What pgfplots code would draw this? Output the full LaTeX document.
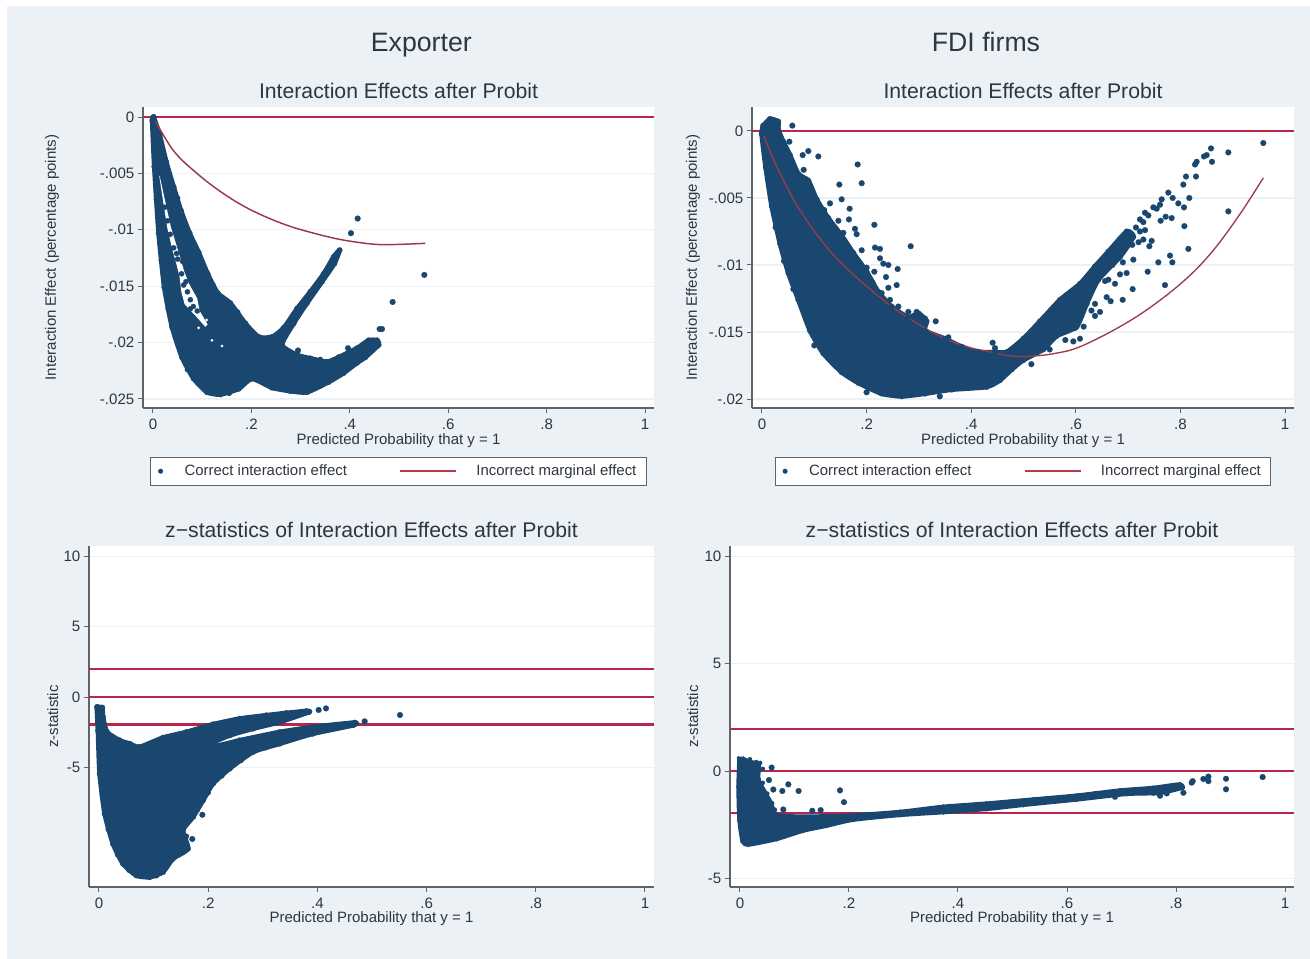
\documentclass[border=0pt]{standalone}
\usepackage{fontspec}
\setmainfont{Liberation Sans}
\usepackage{pgfplots}
\pgfplotsset{compat=1.18}
\definecolor{sbg}{HTML}{EBF1F4}
\definecolor{navy}{HTML}{1A476F}
\definecolor{cran}{HTML}{B8264F}
\definecolor{redcurve}{HTML}{9C3A4A}
\definecolor{legred}{HTML}{B83A50}
\definecolor{txt}{HTML}{2E3640}
\definecolor{spine}{HTML}{5E6468}
\newcommand\fsmain{\fontsize{20}{22}\selectfont}
\newcommand\fstitle{\fontsize{15.9}{18}\selectfont}
\newcommand\fslab{\fontsize{11.25}{14}\selectfont}
\newcommand\fstick{\fontsize{11.3}{13}\selectfont}
\newcommand\fsleg{\fontsize{11.2}{13}\selectfont}
\pgfplotsset{
  stata/.style={
    scale only axis, anchor=south west,
    axis x line*=bottom, axis y line*=left,
    axis line style={spine,line width=1pt,-},
    tick style={spine,line width=.75pt},
    major tick length=4pt, tick align=outside,
    axis background/.style={fill=white},
    ymajorgrids, grid style={sbg,line width=1pt},
    scaled y ticks=false, scaled x ticks=false,
    xtick={0,.2,.4,.6,.8,1}, xticklabels={0,.2,.4,.6,.8,1},
    tick label style={font=\fstick,text=txt},
    xticklabel style={yshift=-.5pt},
    yticklabel style={xshift=1pt},
    title style={font=\fstitle,text=txt,at={(axis description cs:.5,1)},anchor=center,yshift=6pt},
    xlabel={Predicted Probability that y = 1},
    legend style={draw=spine,line width=.8pt,fill=white,font=\fsleg,text=txt,
      anchor=center,legend columns=2,inner xsep=5.5pt,inner ysep=3.5pt,
      nodes={yshift=-1.2pt},
      /tikz/column 1/.style={column sep=3pt},
      /tikz/column 2/.style={column sep=37.5pt},
      /tikz/column 3/.style={column sep=12.5pt}},
    legend cell align=left,
  },
  blob/.style={fill=navy,draw=navy,line width=3.6pt,line join=round,smooth,tension=.35,mark=*,mark size=2.1pt,
    mark options={fill=navy,draw=navy,line width=.1pt,solid}},
  pts/.style={only marks,mark=*,mark size=2.2pt,mark options={fill=navy,draw=navy,line width=.1pt}},
  thickline/.style={draw=cran,color=cran,line width=1.8pt,forget plot},
  thinline/.style={draw=cran,color=cran,line width=1.4pt,forget plot},
  legdot/.style={legend image code/.code={\fill[navy,draw=none] (2pt,-1pt) circle (1.9pt);\path[draw=none,fill=none] (0pt,0pt) -- (15pt,0pt);}},
  legline/.style={legend image code/.code={\draw[draw=legred,line width=1.1pt] (0pt,-.75pt) -- (42pt,-.75pt);}},
}
\begin{document}
\begin{tikzpicture}
\useasboundingbox (0,0) rectangle (982.5pt,719.25pt);
\fill[sbg] (5.25pt,0) rectangle (982.5pt,714.75pt);
\node[font=\fsmain,text=txt,anchor=base] at (316pt,680.5pt) {Exporter};
\node[font=\fsmain,text=txt,anchor=base] at (739.5pt,680.5pt) {FDI firms};

% ---------- Panel A
\begin{axis}[stata, at={(107.25pt,413.25pt)}, width=383.25pt, height=225.75pt,
  xmin=-.0203, xmax=1.0183, ymin=-.0258, ymax=.00089,
  ytick={0,-.005,-.01,-.015,-.02,-.025},
  yticklabels={0,-.005,-.01,-.015,-.02,-.025},
  title={Interaction Effects after Probit},
  ylabel={Interaction Effect (percentage points)},
  every axis y label/.style={at={(axis description cs:-.178,.5)},rotate=90,anchor=center,font=\fslab,text=txt},
  every axis x label/.style={at={(axis description cs:.5,-.108)},anchor=center,font=\fslab,text=txt},
  legend style={at={(axis description cs:.5,-.211)}},
]
\addplot[thickline] coordinates {(-.0203,0)(1.0183,0)};
\addplot[blob,forget plot] coordinates {
(.0014,0)(.0136,-.0016)(.0271,-.0040)(.0420,-.0062)(.0569,-.0083)(.0745,-.0103)(.0928,-.0120)
(.1111,-.0139)(.1314,-.0156)(.1572,-.0165)(.1877,-.0183)(.2148,-.0195)(.2419,-.0195)(.2656,-.0187)
(.2927,-.0170)(.3198,-.0155)(.3469,-.0139)(.3672,-.0124)(.3794,-.0118)(.3686,-.0130)(.3435,-.0146)
(.3130,-.0165)(.2859,-.0183)(.2622,-.0202)(.2927,-.0211)(.3198,-.0214)(.3537,-.0217)(.3774,-.0213)
(.4146,-.0205)(.4383,-.0198)(.4553,-.0198)(.4587,-.0202)(.4316,-.0213)(.4146,-.0218)(.3875,-.0227)
(.3570,-.0235)(.3130,-.0244)(.2791,-.0243)(.2419,-.0240)(.2012,-.0232)(.1741,-.0241)(.1369,-.0246)
(.1098,-.0244)(.0827,-.0232)(.0589,-.0213)(.0386,-.0186)(.0230,-.0151)(.0115,-.0103)(.0027,-.0044)
(-.0014,-.0003)(.0014,0)};
\addplot[fill=white,draw=none,forget plot] coordinates {
(.0130,-.0053)(.0210,-.0076)(.0290,-.0098)(.0396,-.0118)(.0474,-.0130)(.0542,-.0142)(.0576,-.0155)
(.0643,-.0166)(.0860,-.0176)(.1064,-.0186)(.1110,-.0184)(.0950,-.0172)(.0900,-.0161)(.0735,-.0148)
(.0635,-.0137)(.0535,-.0122)(.0366,-.0098)(.0235,-.0072)(.0135,-.0052)(.0130,-.0053)};
\addplot[pts,mark size=2pt,forget plot] coordinates {(.0240,-.0080)(.0300,-.0092)(.0350,-.0104)(.0420,-.0116)(.0500,-.0126)(.0480,-.0121)(.0580,-.0139)(.0623,-.0149)(.0700,-.0155)(.0759,-.0162)(.0820,-.0168)(.0900,-.0172)(.0670,-.0146)(.0600,-.0128)(.0760,-.0170)};
\addplot[only marks,mark=*,mark size=1pt,mark options={fill=white,draw=white,line width=.1pt},forget plot] coordinates {(.0928,-.0187)(.1199,-.0198)(.1402,-.0203)(.1090,-.0180)};
\addplot[pts,forget plot] coordinates {(.4160,-.0090)(.4024,-.0103)(.5515,-.0140)(.4871,-.0164)(.4654,-.0188)(.4607,-.0188)(.3963,-.0205)(.2947,-.0207)};
\addplot[pts,mark size=2pt,forget plot] coordinates {(.0500,-.0072)(.0660,-.0095)(.1020,-.0131)(.1220,-.0149)(.1720,-.0173)(.2030,-.0191)(.3330,-.0216)(.3400,-.0215)(.3950,-.0210)(.3300,-.0240)(.1550,-.0245)(.0700,-.0224)(.0310,-.0170)(.0170,-.0127)(.0070,-.0073)};
\addplot[draw=redcurve,line width=1.1pt,smooth,tension=.6,forget plot] coordinates {
(0,0)(.0420,-.0030)(.0894,-.0050)(.1369,-.0066)(.1843,-.0079)(.2317,-.0089)(.2791,-.0097)
(.3266,-.0103)(.3740,-.0108)(.4146,-.0111)(.4553,-.0113)(.4959,-.0113)(.5535,-.0112)};
\addlegendimage{legdot}
\addlegendentry{Correct interaction effect}
\addlegendimage{legline}
\addlegendentry{Incorrect marginal effect}
\end{axis}

% ---------- Panel B
\begin{axis}[stata, at={(564pt,413.25pt)}, width=406.5pt, height=225.75pt,
  xmin=-.0191, xmax=1.0172, ymin=-.02067, ymax=.00179,
  ytick={0,-.005,-.01,-.015,-.02},
  yticklabels={0,-.005,-.01,-.015,-.02},
  title={Interaction Effects after Probit},
  ylabel={Interaction Effect (percentage points)},
  every axis y label/.style={at={(axis description cs:-.109,.5)},rotate=90,anchor=center,font=\fslab,text=txt},
  every axis x label/.style={at={(axis description cs:.5,-.108)},anchor=center,font=\fslab,text=txt},
  legend style={at={(axis description cs:.5,-.211)}},
]
\addplot[thinline] coordinates {(-.0191,0)(1.0172,0)};
\addplot[blob,forget plot] coordinates {
(.0025,.0004)(.0153,.0009)(.0312,.0007)(.0312,.0001)(.0408,-.0008)(.0535,-.0018)(.0695,-.0032)(.0886,-.0037)
(.1045,-.0051)(.1268,-.0065)(.1523,-.0078)(.1746,-.0091)(.2001,-.0105)(.2224,-.0120)(.2479,-.0131)(.2798,-.0139)
(.2989,-.0136)(.3148,-.0142)(.3117,-.0149)(.3499,-.0155)(.3818,-.0161)(.4136,-.0165)(.4455,-.0165)
(.4678,-.0165)(.4997,-.0155)(.5315,-.0142)(.5698,-.0126)(.6080,-.0114)(.6367,-.0101)(.6622,-.0090)(.6972,-.0075)
(.7100,-.0079)(.6845,-.0094)(.6431,-.0111)(.6208,-.0129)(.6016,-.0146)(.5634,-.0153)(.5379,-.0163)(.4997,-.0171)
(.4773,-.0178)(.4550,-.0186)(.4295,-.0191)(.3627,-.0193)(.3117,-.0196)(.2671,-.0198)(.2288,-.0196)(.1842,-.0188)
(.1523,-.0180)(.1173,-.0166)(.0918,-.0149)(.0695,-.0126)(.0504,-.0106)(.0344,-.0084)(.0185,-.0056)(.0070,-.0027)
(-.0006,-.0002)(.0025,.0004)};
\addplot[pts,forget plot] coordinates {
(.9585,-.0009)(.8916,-.0016)(.8585,-.0013)(.8604,-.0023)(.8502,-.0018)(.8451,-.0019)(.8311,-.0023)(.8279,-.0025)
(.8107,-.0034)(.8298,-.0034)(.8056,-.0040)(.8170,-.0050)(.7769,-.0046)(.7852,-.0050)(.7960,-.0054)(.8069,-.0057)
(.8916,-.0060)(.7642,-.0051)(.7546,-.0058)(.7482,-.0057)(.7610,-.0055)(.7387,-.0063)(.7323,-.0061)(.7227,-.0066)
(.7291,-.0068)(.7622,-.0067)(.7718,-.0064)(.7833,-.0065)(.8075,-.0071)(.7323,-.0074)(.7227,-.0075)(.7450,-.0082)
(.7406,-.0086)(.7291,-.0081)(.8152,-.0088)(.7801,-.0093)(.7846,-.0098)(.7578,-.0098)(.7374,-.0105)(.7100,-.0096)
(.6972,-.0106)(.6845,-.0107)(.7705,-.0115)(.7087,-.0118)(.6896,-.0126)(.6749,-.0114)(.6622,-.0111)(.6590,-.0124)
(.6666,-.0127)(.6367,-.0129)(.6463,-.0135)(.6367,-.0138)(.6080,-.0155)(.5953,-.0157)(.5984,-.0147)(.5825,-.0149)
(.4410,-.0158)(.4455,-.0162)(.7000,-.0082)(.7150,-.0072)(.7080,-.0085)(.6900,-.0098)(.7200,-.0083)(.6700,-.0100)(.6560,-.0112)(.6300,-.0134)(.6150,-.0146)(.5800,-.0156)(.5500,-.0163)(.5150,-.0174)
(.0580,.0004)(.0523,-.0008)(.0886,-.0015)(.0778,-.0018)(.1077,-.0019)(.0797,-.0029)(.1829,-.0025)(.1906,-.0039)
(.1479,-.0040)(.1523,-.0051)(.1300,-.0054)(.1676,-.0058)(.1460,-.0067)(.1663,-.0066)(.2148,-.0070)(.1778,-.0073)
(.1810,-.0077)(.1555,-.0076)(.2843,-.0086)(.1906,-.0089)(.2161,-.0087)(.2256,-.0088)(.2256,-.0095)(.2320,-.0099)
(.2416,-.0100)(.2594,-.0103)(.2001,-.0102)(.2148,-.0105)(.2371,-.0109)(.2575,-.0115)(.2416,-.0117)(.2288,-.0121)
(.2447,-.0126)(.2607,-.0131)(.2798,-.0135)(.2957,-.0135)(.3321,-.0142)(.3117,-.0140)(.3563,-.0154)
(.1190,-.0059)(.1380,-.0072)(.1640,-.0086)(.1880,-.0099)(.2110,-.0113)(.4000,-.0166)(.3400,-.0198)(.2000,-.0195)(.1000,-.0160)(.0600,-.0118)(.0420,-.0097)(.0260,-.0072)};
\addplot[draw=redcurve,line width=1pt,smooth,tension=.6,forget plot] coordinates {
(0,0)(.0089,-.0009)(.0312,-.0029)(.0631,-.0053)(.0950,-.0072)(.1332,-.0091)(.1714,-.0106)(.2097,-.0119)
(.2479,-.0131)(.2862,-.0141)(.3244,-.0150)(.3627,-.0157)(.4009,-.0162)(.4391,-.0165)(.4774,-.0168)(.5156,-.0168)
(.5600,-.0166)(.6080,-.0161)(.6845,-.0146)(.7482,-.0130)(.8120,-.0110)(.8630,-.0089)(.9139,-.0062)(.9585,-.0035)};
\addlegendimage{legdot}
\addlegendentry{Correct interaction effect}
\addlegendimage{legline}
\addlegendentry{Incorrect marginal effect}
\end{axis}

% ---------- Panel C
\begin{axis}[stata, at={(66.75pt,54pt)}, width=423.75pt, height=255.75pt,
  xmin=-.0183, xmax=1.0165, ymin=-13.5, ymax=10.73,
  ytick={10,5,0,-5}, yticklabels={10,5,0,-5},
  title={z−statistics of Interaction Effects after Probit},
  ylabel={z-statistic},
  every axis y label/.style={at={(axis description cs:-.064,.5)},rotate=90,anchor=center,font=\fslab,text=txt},
  every axis x label/.style={at={(axis description cs:.5,-.093)},anchor=center,font=\fslab,text=txt},
]
\addplot[thinline] coordinates {(-.0183,1.96)(1.0165,1.96)};
\addplot[thinline] coordinates {(-.0183,0)(1.0165,0)};
\addplot[thickline] coordinates {(-.0183,-1.96)(1.0165,-1.96)};
\addplot[blob,forget plot] coordinates {
(0,-.75)(.0061,-.75)(.0073,-1.42)(.0147,-2.49)(.0379,-3.08)(.0562,-3.32)(.0745,-3.55)(.1172,-2.89)(.1600,-2.49)
(.2088,-1.94)(.2576,-1.54)(.3065,-1.30)(.3431,-1.14)(.3797,-1.00)(.3846,-1.07)(.3309,-1.78)(.2821,-2.25)(.2393,-2.73)
(.1966,-3.44)(.1996,-3.63)(.2576,-3.08)(.3309,-2.49)(.3919,-2.13)(.4683,-1.82)(.4652,-2.01)(.3919,-2.61)(.3309,-3.32)
(.2821,-3.91)(.2393,-5.09)(.2088,-6.16)(.1905,-7.35)(.1722,-8.53)(.1538,-9.48)(.1630,-10.78)(.1355,-11.49)(.1172,-12.44)
(.0928,-12.80)(.0684,-12.68)(.0440,-11.85)(.0256,-10.43)(.0104,-8.29)(.0012,-5.45)(-.0018,-2.37)(-.0037,-.71)(0,-.75)};
\addplot[pts,forget plot] coordinates {(.4023,-.92)(.4158,-.81)(.4866,-1.73)(.5513,-1.28)(.1893,-8.37)(.1709,-10.09)};
\addplot[pts,mark size=2pt,forget plot] coordinates {(.1800,-8.0)(.2000,-6.8)(.2250,-5.6)(.2600,-4.5)(.3050,-3.6)(.1600,-9.9)(.1450,-11.0)(.1050,-12.7)(.0550,-12.3)(.0340,-11.2)(.0170,-9.4)(.0060,-6.9)};
\end{axis}

% ---------- Panel D
\begin{axis}[stata, at={(547.5pt,54pt)}, width=423pt, height=255.75pt,
  xmin=-.0183, xmax=1.0165, ymin=-5.40, ymax=10.48,
  ytick={10,5,0,-5}, yticklabels={10,5,0,-5},
  title={z−statistics of Interaction Effects after Probit},
  ylabel={z-statistic},
  every axis y label/.style={at={(axis description cs:-.066,.5)},rotate=90,anchor=center,font=\fslab,text=txt},
  every axis x label/.style={at={(axis description cs:.5,-.093)},anchor=center,font=\fslab,text=txt},
]
\addplot[thickline] coordinates {(-.0183,1.96)(1.0165,1.96)};
\addplot[thinline] coordinates {(-.0183,0)(1.0165,0)};
\addplot[thinline] coordinates {(-.0183,-1.96)(1.0165,-1.96)};
\addplot[blob,mark size=1pt,line width=1.5pt,forget plot] coordinates {
(-.0031,.62)(.0061,.62)(.0183,.48)(.0367,.34)(.0355,-.34)(.0459,-.89)(.0581,-1.43)(.0673,-1.98)(.0979,-2.06)(.1468,-2.06)
(.2080,-2.01)(.2936,-1.85)(.3731,-1.61)(.4526,-1.46)(.5382,-1.27)(.6177,-1.09)(.6973,-.85)(.7584,-.73)(.8073,-.57)
(.8135,-.81)(.7707,-1.07)(.7095,-1.12)(.6177,-1.38)(.5199,-1.63)(.4526,-1.82)(.3731,-1.97)(.2936,-2.10)(.2080,-2.32)
(.1590,-2.60)(.1162,-2.83)(.0673,-3.22)(.0153,-3.48)(.0031,-3.30)(-.0031,-2.29)(-.0049,-.73)(-.0031,.62)};
\addplot[pts,forget plot] coordinates {
(.0581,.16)(.0532,-.42)(.0887,-.62)(.0612,-.86)(.0777,-.93)(.1076,-.93)(.1835,-.90)(.1908,-1.45)(.0795,-1.79)(.1327,-1.85)(.1480,-1.82)
(.9590,-.28)(.8918,-.36)(.8918,-.85)(.8594,-.26)(.8594,-.47)(.8502,-.37)(.8306,-.47)(.8288,-.54)(.8135,-1.01)
(.7829,-1.04)(.7707,-1.15)(.7584,-1.01)(.7462,-.89)(.6881,-1.20)};
\addplot[pts,mark size=1.6pt,forget plot] coordinates {(.0183,.55)(.0300,.42)(.0370,.38)(.0420,-.55)(.0500,-1.05)(.0590,-1.5)(.0640,-1.8)(.0420,.10)(.6200,-1.18)(.6500,-1.05)(.6700,-1.0)(.7100,-.95)(.7250,-.95)(.7400,-.85)(.7650,-.8)(.7900,-.75)(.8000,-.7)(.5500,-1.35)(.5800,-1.28)};
\end{axis}
\end{tikzpicture}
\end{document}
